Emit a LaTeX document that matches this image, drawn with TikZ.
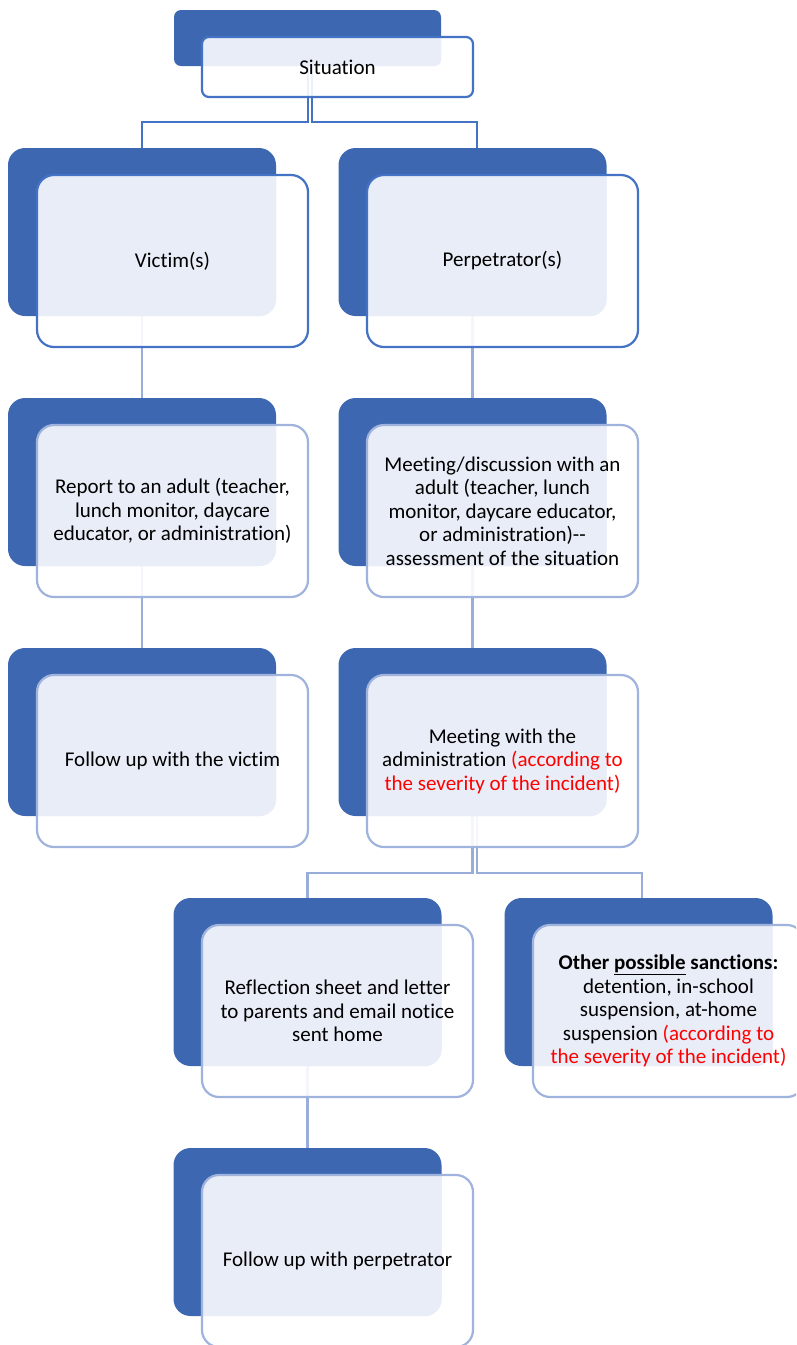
\documentclass[tikz,border=0pt]{standalone}
\usepackage{fontspec}
\setmainfont{Carlito}[Ligatures={NoCommon}]
\pgfdeclarelayer{bg}
\pgfsetlayers{bg,main}
\definecolor{dkblue}{HTML}{3D68B1}
\definecolor{ltblue}{HTML}{E9EDF7}
\definecolor{bordA}{HTML}{4472C4}
\definecolor{bordB}{HTML}{A0B3DD}
\definecolor{connB}{HTML}{99ADDB}
\definecolor{redtxt}{HTML}{FF0000}
\tikzset{
  back/.style={fill=dkblue, draw=none, rounded corners=17pt, inner sep=0pt,
    minimum width=268pt, minimum height=168pt},
  front/.style={fill=white, fill opacity=0.9, text opacity=1, draw=#1, draw opacity=1,
    line width=2.2pt, rounded corners=17pt, inner sep=0pt,
    minimum width=271pt, minimum height=172pt, align=center,
    font=\fontsize{21}{23.5}\selectfont, text=black},
  over/.style={path picture={\fill[ltblue, fill opacity=1, rounded corners=17pt]
    (#1.north west) rectangle (#1.south east);}},
  conn1/.style={draw=bordA, line width=2pt},
  conn2/.style={draw=connB, line width=2.6pt},
}
\begin{document}
\begin{tikzpicture}[x=1pt, y=-1pt]
\useasboundingbox (0,0) rectangle (796,1345);
\clip (0,0) rectangle (796,1345);

% Situation
\node[back, rounded corners=7pt, minimum width=267pt, minimum height=56pt] (sb) at (307.5,38) {};
\node[front=bordA, rounded corners=7pt, minimum height=60pt,
  path picture={\fill[ltblue, fill opacity=1, rounded corners=7pt] (sb.north west) rectangle (sb.south east);}]
  (sf) at (337.5,67) {Situation};

% Row 1
\node[back] (vb) at (142,232) {};
\node[front=bordA, over=vb] (vf) at (172.5,261) {Victim(s)};
\node[back] (pb) at (472.5,232) {};
\node[front=bordA, over=pb] (pf) at (502.5,261) {Perpetrator(s)};

% Row 2
\node[back] (rb) at (142,482) {};
\node[front=bordB, over=rb] (rf) at (172.5,511) {Report to an adult (teacher,\\lunch monitor, daycare\\educator, or administration)};
\node[back] (mb) at (472.5,482) {};
\node[front=bordB, over=mb] (mf) at (502.5,511) {Meeting/discussion with an\\adult (teacher, lunch\\monitor, daycare educator,\\or administration)-{}-\\assessment of the situation};

% Row 3
\node[back] (fvb) at (142,732) {};
\node[front=bordB, over=fvb] (fvf) at (172.5,761) {Follow up with the victim};
\node[back] (mab) at (472.5,732) {};
\node[front=bordB, over=mab] (maf) at (502.5,761) {Meeting with the\\administration \textcolor{redtxt}{(according to}\\\textcolor{redtxt}{the severity of the incident)}};

% Row 4
\node[back] (rfb) at (307.5,982) {};
\node[front=bordB, over=rfb] (rff) at (337.5,1011) {Reflection sheet and letter\\to parents and email notice\\sent home};
\node[back] (ob) at (638.5,982) {};
\node[front=bordB, over=ob] (of) at (668.5,1011) {\textbf{Other \underline{possible} sanctions:}\\detention, in-school\\suspension, at-home\\suspension \textcolor{redtxt}{(according to}\\\textcolor{redtxt}{the severity of the incident)}};

% Row 5
\node[back] (fpb) at (307.5,1232) {};
\node[front=bordB, over=fpb] (fpf) at (337.5,1261) {Follow up with perpetrator};

% Connectors
\coordinate (ja) at (307.5,122);
\coordinate (jb) at (312,122);
\coordinate (ptop) at (477,148);
\coordinate (jc) at (472.5,873);
\coordinate (jd) at (477,873);
\coordinate (otop) at (642,898);
\begin{pgfonlayer}{bg}
\draw[conn1] (sb.south) -- (ja) -| (vb.north);
\draw[conn1] (sb.south -| jb) -- (jb) -| (ptop);
\draw[conn2] (vb.south) -- (rb.north);
\draw[conn2] (pb.south) -- (mb.north);
\draw[conn2] (rb.south) -- (fvb.north);
\draw[conn2] (mb.south) -- (mab.north);
\draw[conn2] (mab.south) -- (jc) -| (rfb.north);
\draw[conn2] (mab.south -| jd) -- (jd) -| (otop);
\draw[conn2] (rfb.south) -- (fpb.north);
\end{pgfonlayer}
\end{tikzpicture}
\end{document}
